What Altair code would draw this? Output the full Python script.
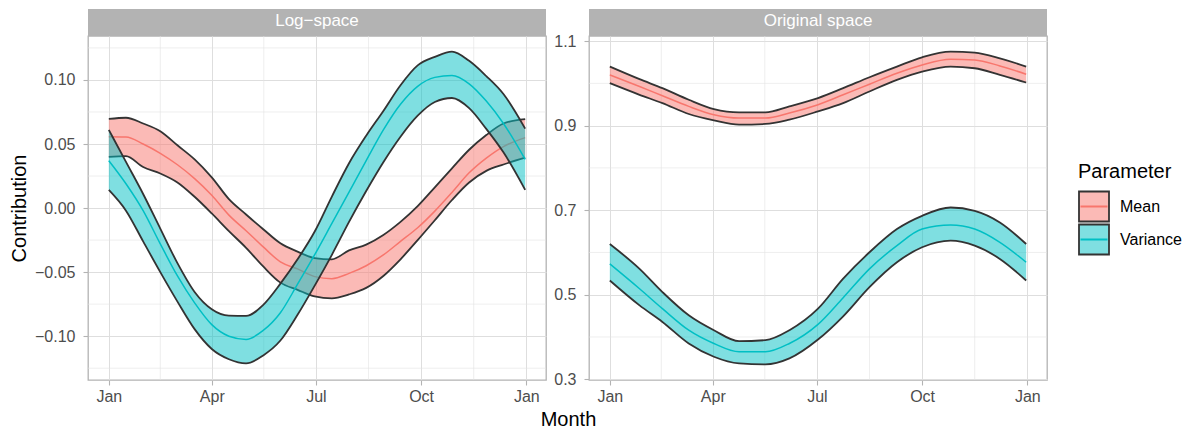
import altair as alt
import pandas as pd

# ---------------- data ----------------
panels = ["Log−space", "Original space"]
parameters = ["Mean", "Variance"]
month_ticks = [0, 90, 181, 273, 365]
month_labels = ["Jan", "Apr", "Jul", "Oct", "Jan"]
minor_days = [45, 135.5, 227, 319]
x_domain = [-18.2, 382.2]

log_days = [0, 15, 30, 45, 60, 75, 90, 105, 120, 135, 150, 165, 180,
            195, 210, 225, 240, 255, 270, 285, 300, 315, 330, 345, 364]
log_mean_mid = [0.0556, 0.0555, 0.0500, 0.0427, 0.0338, 0.0230, 0.0100, -0.0055, -0.0177,
                -0.0303, -0.0420, -0.0475, -0.0535, -0.0551, -0.0510, -0.0450, -0.0366,
                -0.0260, -0.0154, -0.0024, 0.0122, 0.0275, 0.0390, 0.0480, 0.0550]
log_mean_hi = [0.0696, 0.0705, 0.0660, 0.0600, 0.0490, 0.0380, 0.0240, 0.0070, -0.0050,
               -0.0165, -0.0275, -0.0340, -0.0390, -0.0400, -0.0330, -0.0285, -0.0210,
               -0.0108, 0.0015, 0.0162, 0.0310, 0.0455, 0.0570, 0.0660, 0.0695]
log_mean_lo = [0.0400, 0.0405, 0.0320, 0.0270, 0.0200, 0.0088, -0.0042, -0.0180, -0.0310,
               -0.0456, -0.0582, -0.0638, -0.0690, -0.0705, -0.0674, -0.0623, -0.0530,
               -0.0400, -0.0250, -0.0095, 0.0063, 0.0200, 0.0290, 0.0340, 0.0393]
log_var_mid = [0.0370, 0.0190, -0.0020, -0.0280, -0.0530, -0.0740, -0.0910, -0.1000, -0.1025,
               -0.0955, -0.0817, -0.0594, -0.0364, -0.0120, 0.0125, 0.0370, 0.0610, 0.0810,
               0.0950, 0.1020, 0.1035, 0.0970, 0.0835, 0.0660, 0.0380]
log_var_hi = [0.0610, 0.0360, 0.0110, -0.0160, -0.0430, -0.0655, -0.0790, -0.0840, -0.0842,
              -0.0755, -0.0590, -0.0400, -0.0183, 0.0090, 0.0350, 0.0565, 0.0758, 0.0959,
              0.1114, 0.1180, 0.1221, 0.1149, 0.1030, 0.0890, 0.0620]
log_var_lo = [0.0142, -0.0020, -0.0260, -0.0500, -0.0730, -0.0945, -0.1100, -0.1180, -0.1212,
              -0.1150, -0.1034, -0.0833, -0.0605, -0.0365, -0.0108, 0.0133, 0.0358, 0.0557,
              0.0721, 0.0828, 0.0859, 0.0780, 0.0618, 0.0435, 0.0142]

orig_days = [0, 26, 46, 69, 91, 113, 136, 157, 182, 204, 227, 251, 273, 298, 319, 341, 364]
orig_mean_mid = [1.0200, 0.9925, 0.9706, 0.9455, 0.9259, 0.9180, 0.9180, 0.9298, 0.9494,
                 0.9730, 0.9980, 1.0239, 1.0435, 1.0569, 1.0553, 1.0412, 1.0216]
orig_mean_hi = [1.0396, 1.0098, 0.9886, 0.9612, 0.9392, 0.9314, 0.9314, 0.9455, 0.9651,
                0.9886, 1.0145, 1.0396, 1.0616, 1.0749, 1.0725, 1.0592, 1.0396]
orig_mean_lo = [1.0004, 0.9729, 0.9533, 0.9275, 0.9125, 0.9024, 0.9039, 0.9141, 0.9337,
                0.9533, 0.9808, 1.0082, 1.0278, 1.0396, 1.0357, 1.0200, 1.0020]
orig_var_mid = [0.5729, 0.5141, 0.4671, 0.4161, 0.3847, 0.3651, 0.3651, 0.3847, 0.4300,
                0.4930, 0.5612, 0.6161, 0.6553, 0.6647, 0.6553, 0.6239, 0.5769]
orig_var_hi = [0.6200, 0.5612, 0.5063, 0.4514, 0.4161, 0.3902, 0.3925, 0.4161, 0.4670,
               0.5380, 0.6004, 0.6553, 0.6867, 0.7063, 0.6984, 0.6710, 0.6200]
orig_var_lo = [0.5337, 0.4749, 0.4357, 0.3847, 0.3533, 0.3376, 0.3353, 0.3494, 0.3940,
               0.4490, 0.5180, 0.5769, 0.6122, 0.6278, 0.6161, 0.5847, 0.5337]

log_ticks = [-0.10, -0.05, 0.0, 0.05, 0.10]
log_minor = [-0.125, -0.075, -0.025, 0.025, 0.075, 0.125]
log_domain = [-0.1342, 0.1343]
orig_ticks = [0.3, 0.5, 0.7, 0.9, 1.1]
orig_minor = [0.4, 0.6, 0.8, 1.0]
orig_domain = [0.2983, 1.112]

fill_colors = ["rgba(248,118,109,0.5)", "rgba(0,191,196,0.5)"]
line_colors = ["#F8766D", "#00BFC4"]

series = [
    (panels[0], "Mean", log_days, log_mean_mid, log_mean_lo, log_mean_hi),
    (panels[0], "Variance", log_days, log_var_mid, log_var_lo, log_var_hi),
    (panels[1], "Mean", orig_days, orig_mean_mid, orig_mean_lo, orig_mean_hi),
    (panels[1], "Variance", orig_days, orig_var_mid, orig_var_lo, orig_var_hi),
]
rows = []
for panel, param, days, mid, lo, hi in series:
    for d, m, l, h in zip(days, mid, lo, hi):
        rows.append({"panel": panel, "Parameter": param, "Param": param,
                     "day": d, "mid": m, "lo": l, "hi": h})
df = pd.DataFrame(rows)

# ---------------- chart ----------------
PW, PH = 458, 344
LX, LY = 990, 126

label_expr = ("[" + ",".join("'%s'" % m for m in month_labels) + "][indexof(["
              + ",".join(str(t) for t in month_ticks) + "], datum.value)]")

fill_legend = alt.Legend(orient="none", legendX=LX, legendY=LY, title="Parameter",
                         symbolType="square", symbolSize=900, symbolStrokeColor="#333333",
                         symbolStrokeWidth=1.8, rowPadding=0, clipHeight=33,
                         labelOffset=10, titlePadding=8)
stroke_legend = alt.Legend(orient="none", legendX=LX, legendY=LY, title="\u00a0",
                           symbolType="M-0.9,0L0.9,0", symbolSize=900,
                           symbolStrokeWidth=2, rowPadding=0, clipHeight=33,
                           labelOffset=10, titlePadding=8, labelExpr="''")


def make_panel(panel, ydom, yvals, yminor, yfmt, ytitle, xtitle, xtitle_x):
    xscale = alt.Scale(domain=x_domain, nice=False, zero=False)
    yscale = alt.Scale(domain=ydom, nice=False, zero=False)
    if xtitle:
        xaxis = alt.Axis(values=month_ticks, labelExpr=label_expr, title=xtitle,
                         titleX=xtitle_x, titleAlign="center")
    else:
        xaxis = alt.Axis(values=month_ticks, labelExpr=label_expr, title=None)
    if ytitle:
        yaxis = alt.Axis(values=yvals, format=yfmt, title=ytitle)
    else:
        yaxis = alt.Axis(values=yvals, format=yfmt, title=None)
    X = alt.X("day:Q", scale=xscale, axis=xaxis)

    def Y(field):
        return alt.Y(field + ":Q", scale=yscale, axis=yaxis)

    layers = [
        alt.Chart(pd.DataFrame({"day": minor_days})).mark_rule(
            color="#e3e3e3", strokeWidth=0.6).encode(x=X),
        alt.Chart(pd.DataFrame({"lo": yminor})).mark_rule(
            color="#e3e3e3", strokeWidth=0.6).encode(y=Y("lo")),
    ]
    base = alt.Chart(df).transform_filter(alt.datum.panel == panel)
    for p in parameters:
        b = base.transform_filter(alt.datum.Parameter == p)
        layers.append(b.mark_area(interpolate="monotone", opacity=1).encode(
            x=X, y=Y("lo"), y2="hi:Q",
            fill=alt.Fill("Parameter:N",
                          scale=alt.Scale(domain=parameters, range=fill_colors),
                          legend=fill_legend)))
        for f in ["lo", "hi"]:
            layers.append(b.mark_line(interpolate="monotone", color="#333333",
                                      strokeWidth=1.8).encode(x=X, y=Y(f)))
        layers.append(b.mark_line(interpolate="monotone", strokeWidth=1.5).encode(
            x=X, y=Y("mid"),
            stroke=alt.Stroke("Param:N", scale=alt.Scale(range=line_colors),
                              legend=stroke_legend)))
    strip_df = pd.DataFrame({"panel": [panel]})
    layers.append(alt.Chart(strip_df).mark_rect(color="#b3b3b3").encode(
        x=alt.value(0), x2=alt.value(PW), y=alt.value(-27), y2=alt.value(0)))
    layers.append(alt.Chart(strip_df).mark_text(
        color="white", fontSize=17, align="center", baseline="middle").encode(
        x=alt.value(PW / 2), y=alt.value(-15), text="panel:N"))
    return alt.layer(*layers).properties(width=PW, height=PH)


left = make_panel(panels[0], log_domain, log_ticks, log_minor, ".2f",
                  "Contribution", "Month", 480)
right = make_panel(panels[1], orig_domain, orig_ticks, orig_minor, ".1f",
                   None, None, 0)

chart = alt.hconcat(left, right, spacing=43, bounds="flush").properties(
    padding={"left": 0, "top": 0, "right": 0, "bottom": 0}
).configure(font="Liberation Sans").configure_view(
    stroke="#b3b3b3", strokeWidth=1.3
).configure_axis(
    domain=False, gridColor="#dedede", gridWidth=1, tickColor="#b3b3b3",
    tickSize=5, tickWidth=1.1, labelColor="#4d4d4d", labelFontSize=16,
    titleFontSize=20, titleFontWeight="normal", titleColor="black"
).configure_axisY(labelPadding=8, titlePadding=5).configure_axisX(
    labelPadding=3, titlePadding=5
).configure_legend(
    labelFontSize=16, titleFontSize=20, titleFontWeight="normal",
    labelColor="black", titleColor="black"
)

chart.save("out.html", embed_options={"renderer": "svg", "actions": False})
